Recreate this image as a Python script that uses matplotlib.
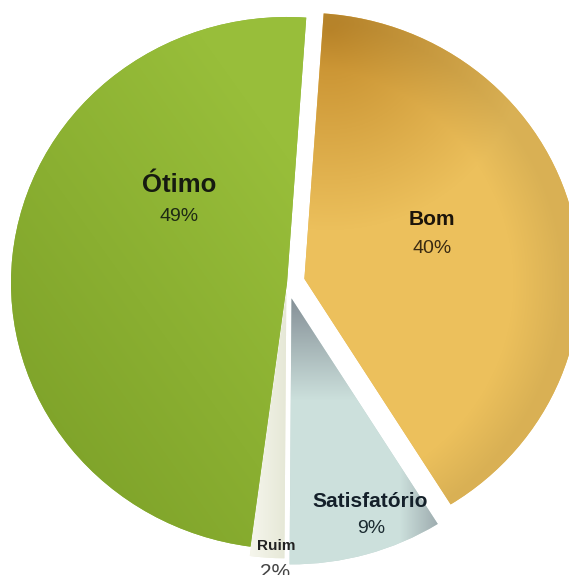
import numpy as np
import matplotlib
matplotlib.use("Agg")
import matplotlib.pyplot as plt

# data
labels = ["Bom", "Satisfatório", "Ruim", "Ótimo"]
values = [40, 9, 2, 49]
pct_text = ["40%", "9%", "2%", "49%"]
explode = [0.065, 0.06, 0.035, 0.0]

W, H = 569, 575
fig = plt.figure(figsize=(W / 100, H / 100), dpi=100)
fig.patch.set_facecolor("white")
ax = fig.add_axes([0, 0, 1, 1])

wedges, _ = ax.pie(values, startangle=86, counterclock=False, explode=explode,
                   radius=1.0, center=(0, 0),
                   colors=["#e3b452", "#c3d6d3", "#eeefdc", "#8cb43a"],
                   wedgeprops=dict(linewidth=0))

# pie centre at pixel (287, 283); scan is a bit squashed vertically
cx, cy, rx, ry = 287, 283, 276, 266
xlim = (-cx / rx, (W - cx) / rx)
ylim = (-(H - cy) / ry, cy / ry)

# shaded fills, built on the pixel grid and clipped to each wedge
X, Y = np.meshgrid(np.arange(W) + 0.5, np.arange(H) + 0.5)


def mix(a, b, w):
    a = np.array(a, float) / 255
    b = np.array(b, float) / 255
    w = np.clip(w, 0, 1)[..., None]
    return a * (1 - w) + b * w


# Bom: darker gold at the top left, light in the middle, a bit darker at the rim
d = np.hypot(X - 330, Y - 30) / 200
bom = mix((196, 140, 44), (236, 192, 92), d)
rn = np.hypot((X - cx) / rx, (Y - cy) / ry)
bom = bom * (1 - np.clip((rn - 0.82) / 0.18, 0, 1)[..., None] * 0.08)

# Satisfatorio: grey near the apex and the right tip, pale cyan elsewhere
wd = np.maximum(np.clip(1 - (Y - 300) / 100, 0, 1) * 0.9,
                np.clip((X - 400) / 45, 0, 1) * 0.7)
sat = mix((204, 224, 220), (126, 136, 144), wd)

# Ruim: cream
ruim = mix((248, 248, 240), (228, 230, 212), np.clip((X - 245) / 45, 0, 1))

# Otimo: olive green, a little lighter towards the upper right
ot = mix((124, 160, 40), (152, 190, 58),
         0.55 + 0.3 * (X - 150) / 150 - 0.4 * (Y - 280) / 280)

for wdg, img in zip(wedges, [bom, sat, ruim, ot]):
    im = ax.imshow(img, extent=(xlim[0], xlim[1], ylim[0], ylim[1]),
                   origin="upper", aspect="auto", interpolation="bilinear",
                   zorder=wdg.get_zorder() + 0.1)
    im.set_clip_path(wdg)

ax.set_aspect("auto")
ax.set_xlim(*xlim)
ax.set_ylim(*ylim)
ax.axis("off")

# labels, placed in pixel positions of the reference
font = ["Liberation Sans", "DejaVu Sans"]


def put(px, py, s, size, weight, color):
    fig.text(px / W, 1 - py / H, s, ha="center", va="baseline",
             fontsize=size, fontweight=weight, color=color, family=font)


put(179, 192, labels[3], 18.5, "bold", "#161a10")
put(179, 221, pct_text[3], 14, "normal", "#1e2a14")
put(432, 225, labels[0], 15, "bold", "#1c140a")
put(432, 253, pct_text[0], 14, "normal", "#3a2a12")
put(370, 507, labels[1], 15, "bold", "#14202a")
put(371, 533, pct_text[1], 14, "normal", "#1a2a30")
put(276, 550, labels[2], 11, "bold", "#222222")
put(275, 578, pct_text[2], 15, "normal", "#444444")

fig.savefig("out.png", dpi=100, facecolor="white")
